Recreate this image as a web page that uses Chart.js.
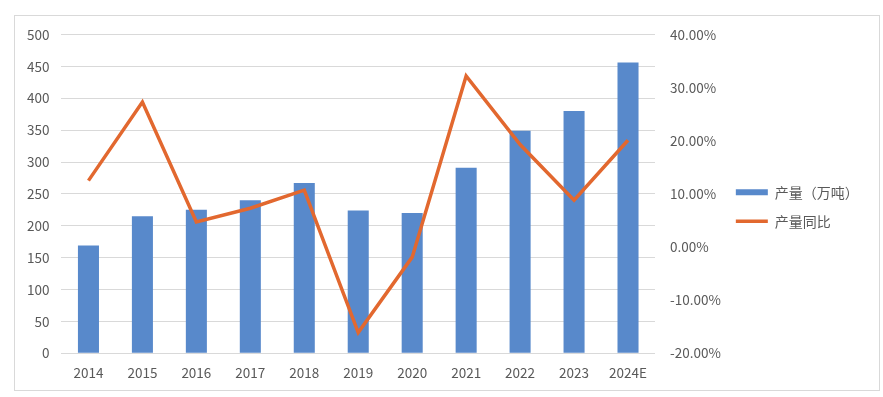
<!DOCTYPE html>
<html>
<head>
<meta charset="utf-8">
<script src="https://cdn.jsdelivr.net/npm/chart.js@4"></script>
<style>
  body { margin: 0; background: #fff; }
  #box {
    position: absolute; left: 14px; top: 15px;
    width: 866px; height: 376px;
    border: 1px solid #d9d9d9; box-sizing: border-box;
  }
</style>
</head>
<body>
<div id="box"><canvas id="c"></canvas></div>
<script>
// 数据
const years = ['2014', '2015', '2016', '2017', '2018', '2019', '2020', '2021', '2022', '2023', '2024E'];
const output = [169, 215, 225, 240, 267, 224, 220, 291, 349, 380, 456];       // 产量（万吨）
const yoy = [12.5, 27.3, 4.7, 7.3, 10.7, -16.1, -1.9, 32.2, 19.3, 8.8, 20.1]; // 产量同比 %

const tickFont = { family: "'Noto Sans CJK SC', 'Noto Sans', sans-serif", size: 13.5 };
const tickColor = '#595959';

// 纵轴上下留白
const vPad = s => { s.paddingTop = 18.5; s.paddingBottom = 0; };

new Chart(document.getElementById('c'), {
    data: {
        labels: years,
        datasets: [
            {
                type: 'line',
                label: '产量同比',
                data: yoy,
                yAxisID: 'y1',
                borderColor: '#e2682f',
                backgroundColor: '#e2682f',
                borderWidth: 3.5,
                pointRadius: 0,
                tension: 0,
                pointStyle: 'line',
                order: 1,
            },
            {
                type: 'bar',
                label: '产量（万吨）',
                data: output,
                yAxisID: 'y',
                backgroundColor: '#5889cb',
                barPercentage: 0.39,
                categoryPercentage: 1,
                pointStyle: 'rect',
                order: 2,
            },
        ]
    },
    options: {
        responsive: true,
        maintainAspectRatio: false,
        animation: false,
        layout: { padding: { left: 0, right: 17, top: 6, bottom: -1.5 } },
        scales: {
            x: {
                grid: { display: false, drawTicks: false },
                border: { display: false },
                ticks: { font: tickFont, color: tickColor, padding: 11 },
            },
            y: {
                min: 0, max: 500,
                ticks: { stepSize: 50, font: tickFont, color: tickColor, padding: 12 },
                grid: { color: '#d9d9d9', drawTicks: false },
                border: { display: false },
                afterFit: vPad,
            },
            y1: {
                position: 'right',
                min: -20, max: 40,
                ticks: {
                    stepSize: 10, font: tickFont, color: tickColor, padding: 15,
                    callback: v => v.toFixed(2) + '%'
                },
                grid: { display: false, drawTicks: false },
                border: { display: false },
                afterFit: s => { vPad(s); s.width -= 15; },
            },
        },
        plugins: {
            legend: {
                position: 'right',
                reverse: true,
                labels: {
                    usePointStyle: true,
                    pointStyleWidth: 32,
                    boxHeight: 6,
                    padding: 15,
                    color: tickColor,
                    font: { family: "'Noto Sans CJK SC', sans-serif", size: 14 },
                }
            },
            tooltip: { enabled: false }
        }
    }
});
</script>
</body>
</html>
